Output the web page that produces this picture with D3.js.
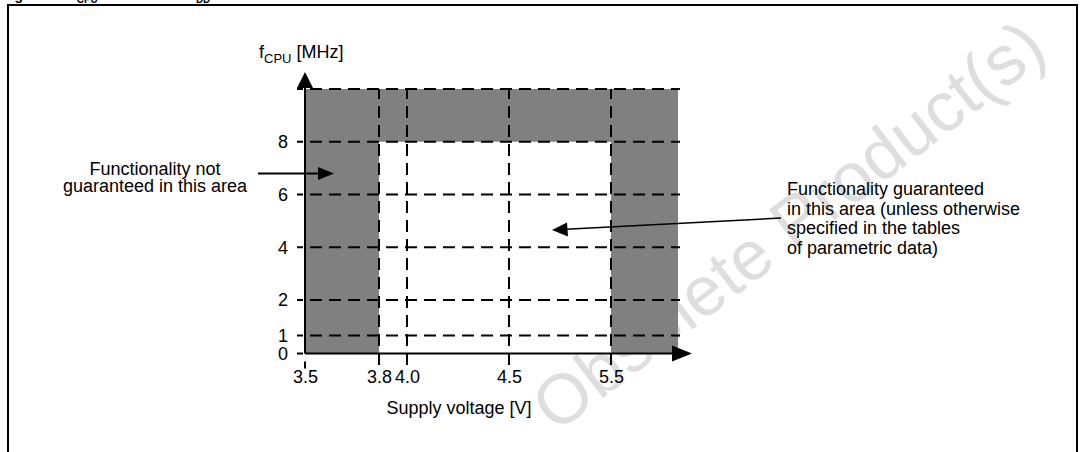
<!DOCTYPE html>
<html>
<head>
<meta charset="utf-8">
<script src="https://cdn.jsdelivr.net/npm/d3@7"></script>
<style>
  html, body { margin: 0; padding: 0; background: #fff; }
  svg { display: block; font-family: "Liberation Sans", Arial, Helvetica, sans-serif; }
</style>
</head>
<body>
<svg id="chart" width="1080" height="452"></svg>
<script>
// ---------------- data ----------------
const xTickValues = [3.5, 3.8, 4.0, 4.5, 5.5];
const xTickLabels = ["3.5", "3.8", "4.0", "4.5", "5.5"];
const yTickValues = [0, 1, 2, 4, 6, 8];
const yTickLabels = ["0", "1", "2", "4", "6", "8"];
const hGridValues = [1, 2, 4, 6, 8, 10];       // dashed horizontal lines (MHz)
const vGridValues = [3.8, 4.0, 4.5, 5.5];      // dashed vertical lines (V)
const voltageBreaks = [3.5, 3.8, 4.0, 4.5, 5.5, 6.0];
const freqBreaks = [0, 1, 2, 10];
// "functionality not guaranteed" zones: [vMin, vMax, fMin, fMax]
const zoneVMin = [3.5, 3.8, 5.5];
const zoneVMax = [3.8, 5.5, 6.0];
const zoneFMin = [0, 8, 0];
const zoneFMax = [10, 10, 10];
const leftNote = ["Functionality not", "guaranteed in this area"];
const rightNote = ["Functionality guaranteed", "in this area (unless otherwise", "specified in the tables", "of parametric data)"];

// ---------------- layout ----------------
const svg = d3.select("#chart");
const FS = 18;
const x = d3.scaleLinear().domain(voltageBreaks).range([305, 379, 407, 509, 611, 678]);
const y = d3.scaleLinear().domain(freqBreaks).range([353.5, 335.5, 300, 89]);
const xMax = voltageBreaks[voltageBreaks.length - 1];
const yMax = freqBreaks[freqBreaks.length - 1];

// title (clipped at top)
const title = svg.append("text").attr("x", 2).attr("y", 0)
  .attr("font-size", 14).attr("font-weight", "bold");
title.append("tspan").text("Figure 10. f");
title.append("tspan").attr("font-size", 10).attr("dy", 3).text("CPU");
title.append("tspan").attr("dy", -3).text(" max. versus V");
title.append("tspan").attr("font-size", 10).attr("dy", 3).text("DD");

// frame
svg.append("rect").attr("x", 8).attr("y", 5).attr("width", 1069).attr("height", 460)
  .attr("fill", "none").attr("stroke", "#000").attr("stroke-width", 2);

// watermark
svg.append("text").attr("transform", "translate(556,434) rotate(-37.5)")
  .attr("font-size", 70).attr("fill", "#dedede").text("Obsolete Product(s)");

// zones
const zones = zoneVMin.map((v, i) => ({ v0: v, v1: zoneVMax[i], f0: zoneFMin[i], f1: zoneFMax[i] }));
svg.append("g").selectAll("rect").data(zones).join("rect")
  .attr("x", d => x(d.v0)).attr("width", d => x(d.v1) - x(d.v0))
  .attr("y", d => y(d.f1)).attr("height", d => y(d.f0) - y(d.f1))
  .attr("fill", "#808080");

// dashed grid
const dash = "12,7";
svg.append("g").selectAll("line").data(hGridValues).join("line")
  .attr("x1", x(3.5) - 8).attr("x2", x(xMax) + 2)
  .attr("y1", d => y(d)).attr("y2", d => y(d))
  .attr("stroke", "#000").attr("stroke-width", 2)
  .attr("stroke-dasharray", dash).attr("stroke-dashoffset", 6);
svg.append("g").selectAll("line").data(vGridValues).join("line")
  .attr("x1", d => x(d)).attr("x2", d => x(d))
  .attr("y1", y(yMax)).attr("y2", y(0) + 15)
  .attr("stroke", "#000").attr("stroke-width", 2)
  .attr("stroke-dasharray", dash).attr("stroke-dashoffset", 2);
// small tick dashes at origin
svg.append("line").attr("x1", x(3.5)).attr("x2", x(3.5))
  .attr("y1", y(0) + 8).attr("y2", y(0) + 15).attr("stroke", "#000").attr("stroke-width", 2);
svg.append("line").attr("x1", x(3.5) - 8).attr("x2", x(3.5) - 2)
  .attr("y1", y(0)).attr("y2", y(0)).attr("stroke", "#000").attr("stroke-width", 2);

// axes
const xAxis = d3.axisBottom(x).tickValues(xTickValues)
  .tickFormat((d, i) => xTickLabels[i]).tickSize(0).tickPadding(17);
const gx = svg.append("g").attr("transform", `translate(0,${y(0)})`).call(xAxis);
gx.select(".domain").remove();
gx.selectAll("text").attr("font-size", FS).attr("font-family", null).attr("fill", "#000");

const yAxis = d3.axisLeft(y).tickValues(yTickValues)
  .tickFormat((d, i) => yTickLabels[i]).tickSize(0).tickPadding(17);
const gy = svg.append("g").attr("transform", `translate(${x(3.5)},0)`).call(yAxis);
gy.select(".domain").remove();
gy.selectAll("text").attr("font-size", FS).attr("font-family", null).attr("fill", "#000");

// axis lines with arrows
svg.append("line").attr("x1", x(3.5)).attr("x2", x(3.5)).attr("y1", y(0)).attr("y2", 86)
  .attr("stroke", "#000").attr("stroke-width", 2);
svg.append("path").attr("d", `M${x(3.5)},72 L${x(3.5) - 8},88 L${x(3.5) + 8},88 Z`).attr("fill", "#000");
svg.append("line").attr("x1", x(3.5)).attr("x2", 674).attr("y1", y(0)).attr("y2", y(0))
  .attr("stroke", "#000").attr("stroke-width", 2);
svg.append("path").attr("d", `M692,${y(0)} L672,${y(0) - 8} L672,${y(0) + 8} Z`).attr("fill", "#000");

// axis titles
const yt = svg.append("text").attr("x", 259).attr("y", 58).attr("font-size", FS);
yt.append("tspan").text("f");
yt.append("tspan").attr("font-size", 13).attr("dy", 5).text("CPU");
yt.append("tspan").attr("dy", -5).text(" [MHz]");
svg.append("text").attr("x", (x(3.5) + 613) / 2).attr("y", 414).attr("text-anchor", "middle")
  .attr("font-size", FS).text("Supply voltage [V]");

// annotations
svg.append("g").selectAll("text").data(leftNote).join("text")
  .attr("x", 155).attr("y", (d, i) => 175 + i * 17).attr("text-anchor", "middle")
  .attr("font-size", FS).text(d => d);
svg.append("line").attr("x1", 258).attr("x2", 320).attr("y1", 173.5).attr("y2", 173.5)
  .attr("stroke", "#000").attr("stroke-width", 2);
svg.append("path").attr("d", "M334,173.5 L318,167 L318,180 Z").attr("fill", "#000");

svg.append("g").selectAll("text").data(rightNote).join("text")
  .attr("x", 787).attr("y", (d, i) => 195 + i * 19.7)
  .attr("font-size", FS).text(d => d);
svg.append("line").attr("x1", 781).attr("y1", 218).attr("x2", 566).attr("y2", 229.3)
  .attr("stroke", "#000").attr("stroke-width", 1.5);
svg.append("path").attr("d", "M552,230 L567,222.5 L568,236.5 Z").attr("fill", "#000");
</script>
</body>
</html>
